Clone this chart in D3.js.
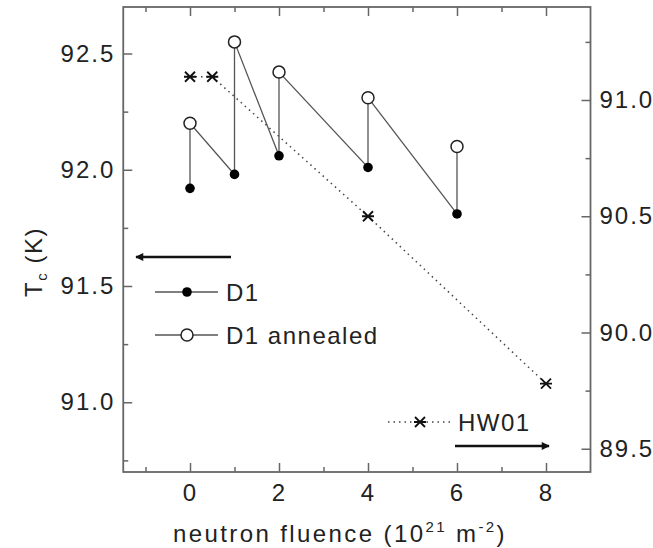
<!DOCTYPE html>
<html><head><meta charset="utf-8">
<script src="https://cdn.jsdelivr.net/npm/d3@7"></script>
<style>
body{margin:0;background:#fff;}
text{font-family:"Liberation Sans",Arial,Helvetica,sans-serif;fill:#222;}
</style></head>
<body><svg id="c" width="653" height="548"></svg>
<script>
// ---- data ----
const d1X = [0, 1, 2, 4, 6];
const d1Tc = [91.92, 91.98, 92.06, 92.01, 91.81];
const annealedTc = [92.20, 92.55, 92.42, 92.31, 92.10];
const hwX = [0, 0.5, 4, 8];
const hwTc = [91.10, 91.10, 90.50, 89.78];
const xTicks = [0, 2, 4, 6, 8];
const xMinor = [-1, 1, 3, 5, 7];
const leftTicks = [91.0, 91.5, 92.0, 92.5];
const leftMinor = [90.75, 91.25, 91.75, 92.25];
const rightTicks = [89.5, 90.0, 90.5, 91.0];
const rightMinor = [89.75, 90.25, 90.75, 91.25];
const legendLabels = ["D1", "D1 annealed", "HW01"];

const svg = d3.select("#c");
const L = 123.25, R = 590.5, T = 7, B = 472;
const x = d3.scaleLinear().domain([-1.5, 9]).range([L, R]);
const yL = d3.scaleLinear().domain([90.7, 92.7]).range([B, T]);
const yR = d3.scaleLinear().domain([89.4, 91.4]).range([B, T]);
const axisCol = "#666";
const fs = 24;

function styleAxis(g){
  g.select(".domain").remove();
  g.selectAll(".tick line").attr("stroke", axisCol).attr("stroke-width", 1.5);
  g.selectAll(".tick text").attr("font-size", fs).attr("fill","#222")
   .attr("font-family","Liberation Sans, Arial, sans-serif").style("letter-spacing","2px");
}
const fmt = d3.format(".1f");
// bottom
svg.append("g").attr("transform",`translate(0,${B})`)
  .call(d3.axisBottom(x).tickValues(xTicks).tickFormat(d3.format("d")).tickSize(-9).tickPadding(12)).call(styleAxis);
svg.append("g").attr("transform",`translate(0,${B})`)
  .call(d3.axisBottom(x).tickValues(xMinor).tickFormat("").tickSize(-5)).call(styleAxis);
// top
svg.append("g").attr("transform",`translate(0,${T})`)
  .call(d3.axisTop(x).tickValues(xTicks).tickFormat("").tickSize(-9)).call(styleAxis);
svg.append("g").attr("transform",`translate(0,${T})`)
  .call(d3.axisTop(x).tickValues(xMinor).tickFormat("").tickSize(-5)).call(styleAxis);
// left
svg.append("g").attr("transform",`translate(${L},0)`)
  .call(d3.axisLeft(yL).tickValues(leftTicks).tickFormat(fmt).tickSize(-9).tickPadding(8)).call(styleAxis);
svg.append("g").attr("transform",`translate(${L},0)`)
  .call(d3.axisLeft(yL).tickValues(leftMinor).tickFormat("").tickSize(-5)).call(styleAxis);
// right
svg.append("g").attr("transform",`translate(${R},0)`)
  .call(d3.axisRight(yR).tickValues(rightTicks).tickFormat(fmt).tickSize(-9).tickPadding(9)).call(styleAxis);
svg.append("g").attr("transform",`translate(${R},0)`)
  .call(d3.axisRight(yR).tickValues(rightMinor).tickFormat("").tickSize(-5)).call(styleAxis);
// frame
svg.append("rect").attr("x",L).attr("y",T).attr("width",R-L).attr("height",B-T)
  .attr("fill","none").attr("stroke",axisCol).attr("stroke-width",1.8);

// zigzag D1 / annealed path
const zig = [];
d1X.forEach((v,i)=>{ zig.push([v, d1Tc[i]]); zig.push([v, annealedTc[i]]); });
svg.append("path").datum(zig)
  .attr("d", d3.line().x(d=>x(d[0])).y(d=>yL(d[1])))
  .attr("fill","none").attr("stroke","#555").attr("stroke-width",1.3);

// HW01 dotted line (right axis)
svg.append("path").datum(hwX.map((v,i)=>[v,hwTc[i]]))
  .attr("d", d3.line().x(d=>x(d[0])).y(d=>yR(d[1])))
  .attr("fill","none").attr("stroke","#444").attr("stroke-width",1.5).attr("stroke-dasharray","1.5,4");

function star(g, cx, cy, s){
  const p = `M${cx-s},${cy-s}L${cx+s},${cy+s}M${cx-s},${cy+s}L${cx+s},${cy-s}M${cx-s*1.2},${cy}L${cx+s*1.2},${cy}`;
  g.append("path").attr("d",p).attr("stroke","#111").attr("stroke-width",1.8).attr("fill","none");
}
const gm = svg.append("g");
hwX.forEach((v,i)=>star(gm, x(v), yR(hwTc[i]), 5));
// markers
svg.append("g").selectAll("circle").data(d1X).join("circle")
  .attr("cx",d=>x(d)).attr("cy",(d,i)=>yL(d1Tc[i])).attr("r",4.8).attr("fill","#000");
svg.append("g").selectAll("circle").data(d1X).join("circle")
  .attr("cx",d=>x(d)).attr("cy",(d,i)=>yL(annealedTc[i])).attr("r",6).attr("fill","#fff")
  .attr("stroke","#222").attr("stroke-width",1.5);

// arrows
svg.append("defs").append("marker").attr("id","ah").attr("viewBox","0 0 10 10")
  .attr("refX",9).attr("refY",5).attr("markerWidth",4.5).attr("markerHeight",3.5).attr("orient","auto-start-reverse")
  .attr("markerUnits","strokeWidth")
  .append("path").attr("d","M0,0L10,5L0,10z").attr("fill","#111");
svg.append("line").attr("x1",231).attr("y1",257).attr("x2",136).attr("y2",257)
  .attr("stroke","#111").attr("stroke-width",2.3).attr("marker-end","url(#ah)");
svg.append("line").attr("x1",455).attr("y1",446).attr("x2",549).attr("y2",446)
  .attr("stroke","#111").attr("stroke-width",2.3).attr("marker-end","url(#ah)");

// legend
const lg = svg.append("g");
lg.append("line").attr("x1",155).attr("x2",218).attr("y1",292).attr("y2",292).attr("stroke","#555").attr("stroke-width",1.3);
lg.append("circle").attr("cx",187).attr("cy",292).attr("r",4.8).attr("fill","#000");
lg.append("text").attr("x",226).attr("y",300.5).attr("font-size",fs).style("letter-spacing","1.5px").text(legendLabels[0]);
lg.append("line").attr("x1",155).attr("x2",218).attr("y1",335).attr("y2",335).attr("stroke","#555").attr("stroke-width",1.3);
lg.append("circle").attr("cx",187).attr("cy",335).attr("r",6).attr("fill","#fff").attr("stroke","#222").attr("stroke-width",1.5);
lg.append("text").attr("x",226).attr("y",343.5).attr("font-size",fs).style("letter-spacing","1.5px").text(legendLabels[1]);
lg.append("line").attr("x1",388).attr("x2",450).attr("y1",422).attr("y2",422).attr("stroke","#444").attr("stroke-width",1.5).attr("stroke-dasharray","1.5,4");
star(lg, 420, 422, 5);
lg.append("text").attr("x",458).attr("y",430.5).attr("font-size",fs).style("letter-spacing","1.5px").text(legendLabels[2]);

// axis titles
const xt = svg.append("text").attr("x",340).attr("y",542).attr("text-anchor","middle").attr("font-size",fs).style("letter-spacing","2.4px");
xt.append("tspan").text("neutron fluence (10");
xt.append("tspan").attr("dy",-10).attr("font-size",15).text("21");
xt.append("tspan").attr("dy",10).text(" m");
xt.append("tspan").attr("dy",-10).attr("font-size",15).text("-2");
xt.append("tspan").attr("dy",10).text(")");
const yt = svg.append("text").attr("transform","translate(42,262) rotate(-90)").attr("text-anchor","middle").attr("font-size",fs).style("letter-spacing","1.5px");
yt.append("tspan").text("T");
yt.append("tspan").attr("dy",5).attr("font-size",15).text("c");
yt.append("tspan").attr("dy",-5).text(" (K)");
</script></body></html>
